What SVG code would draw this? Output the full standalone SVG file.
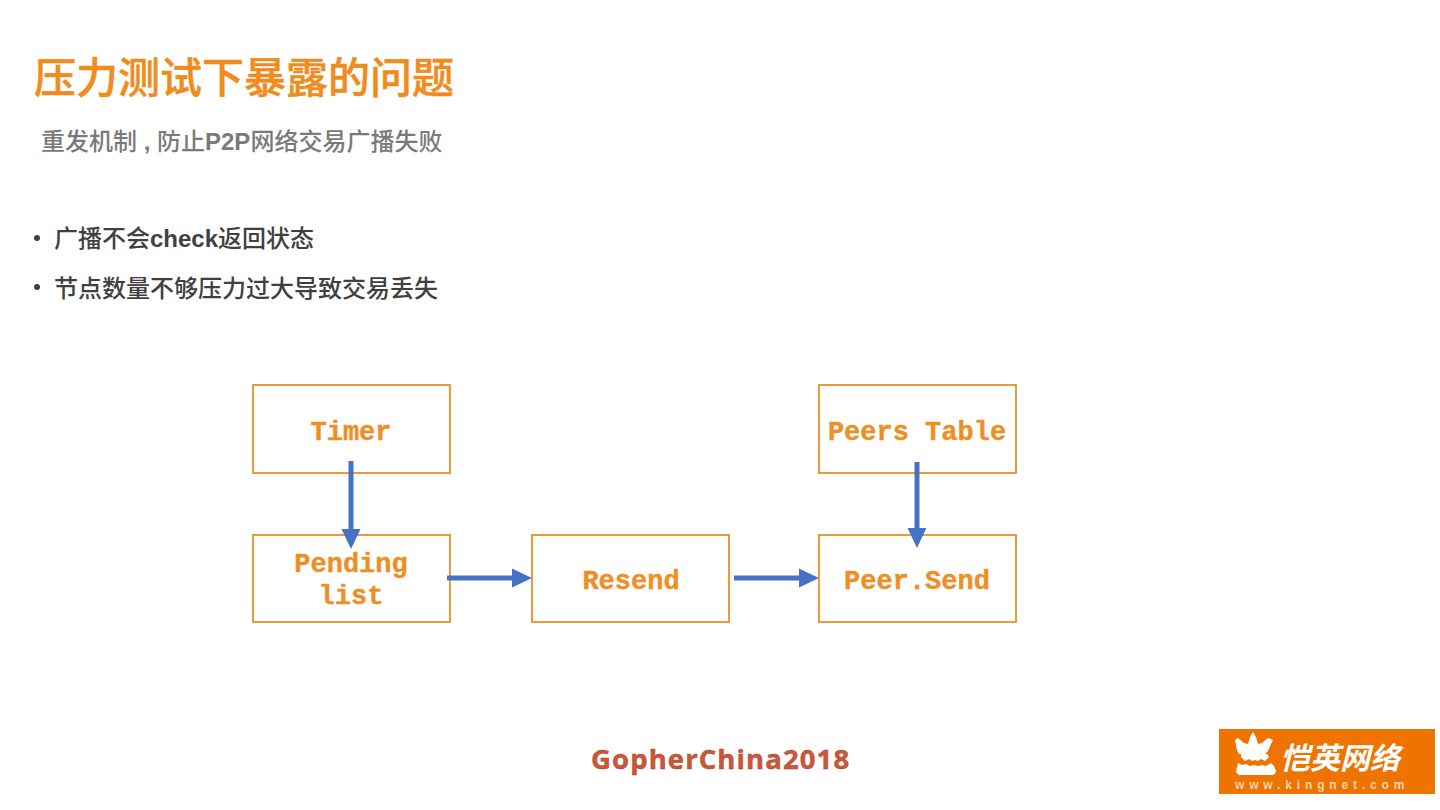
<svg xmlns="http://www.w3.org/2000/svg" width="1440" height="810" viewBox="0 0 1440 810">
<style>
.cjk{font-family:"Noto Sans CJK SC",sans-serif;font-weight:500}
.lat{font-family:"Liberation Sans",sans-serif;font-weight:700}
.title{font-size:42px;fill:#f08c1e;stroke:#f08c1e;stroke-width:.5}
.sub{font-size:24px;fill:#7a7a7a}
.bul{font-size:24px;fill:#404040}
.box{fill:none;stroke:#ed8f25;stroke-width:1.8}
.lbl{font-family:"Liberation Mono",monospace;font-weight:700;font-size:27px;fill:#ed8f25;stroke:#ed8f25;stroke-width:.4;text-anchor:middle}
.con{stroke:#4472c4;stroke-width:5;fill:none}
.head{fill:#4472c4}
</style>
<rect width="1440" height="810" fill="#fff"/>
<text class="cjk title" x="34" y="93">压力测试下暴露的问题</text>
<text class="cjk sub" x="41" y="150">重发机制<tspan class="lat"> , </tspan>防止<tspan class="lat">P2P</tspan>网络交易广播失败</text>
<circle cx="37" cy="238" r="3" fill="#404040"/>
<text class="cjk bul" x="54" y="247">广播不会<tspan class="lat">check</tspan>返回状态</text>
<circle cx="37" cy="287" r="3" fill="#404040"/>
<text class="cjk bul" x="54" y="297">节点数量不够压力过大导致交易丢失</text>
<g id="node-timer"><rect class="box" x="253" y="385" width="197" height="88"/><text class="lbl" x="351" y="439.5">Timer</text></g>
<g id="node-pending"><rect class="box" x="253" y="535" width="197" height="87"/><text class="lbl" x="351" y="572">Pending</text><text class="lbl" x="351" y="604">list</text></g>
<g id="node-resend"><rect class="box" x="532" y="535" width="197" height="87"/><text class="lbl" x="631" y="588.5">Resend</text></g>
<g id="node-peers"><rect class="box" x="819" y="385" width="197" height="88"/><text class="lbl" x="917" y="439.5">Peers Table</text></g>
<g id="node-send"><rect class="box" x="819" y="535" width="197" height="87"/><text class="lbl" x="917" y="588.5">Peer.Send</text></g>
<g id="connectors">
<path class="con" d="M351 461V530"/><path class="head" d="M341.500 529H360.500L351 549Z"/>
<path class="con" d="M447 578H513"/><path class="head" d="M512 568.500V587.500L532 578Z"/>
<path class="con" d="M734 578H800"/><path class="head" d="M799 568.500V587.500L819 578Z"/>
<path class="con" d="M917 462V529"/><path class="head" d="M907.500 528H926.500L917 548Z"/>
</g>
<text x="591" y="769" font-family="'Open Sans',sans-serif" font-weight="700" font-size="27.500px" letter-spacing="1.100" fill="#c9573a" stroke="#a8412a" stroke-width="0.4">GopherChina2018</text>
<g id="logo">
<rect x="1219" y="729" width="216" height="65" fill="#ef7300"/>
<path fill="#fff" d="M1235 740l3-2 6 5 4 1 2-7 3-5 3 5 2 7 4-1 6-5 5 2-3 6-2 5-3 3h-26l-2-4z"/>
<path fill="#fff" d="M1241 754h26l2 3-4 4-4-2-3 2-3-1-3 1-3-2-4 2-4-4zM1238 763l4 2 4-1 4 2 4-1 4 1 4-1 4 1 5-3 3 3 2 5-1 3-3 1h-33l-3-3 1-5z"/>
<text x="1280" y="769" font-family="'Noto Sans CJK SC',sans-serif" font-weight="700" font-style="italic" font-size="30px" fill="#fff">恺英网络</text>
<text x="1235" y="789" font-family="'Liberation Sans',sans-serif" font-size="12px" font-weight="700" letter-spacing="4.850" fill="#fbd4ad">www.kingnet.com</text>
</g>
</svg>
